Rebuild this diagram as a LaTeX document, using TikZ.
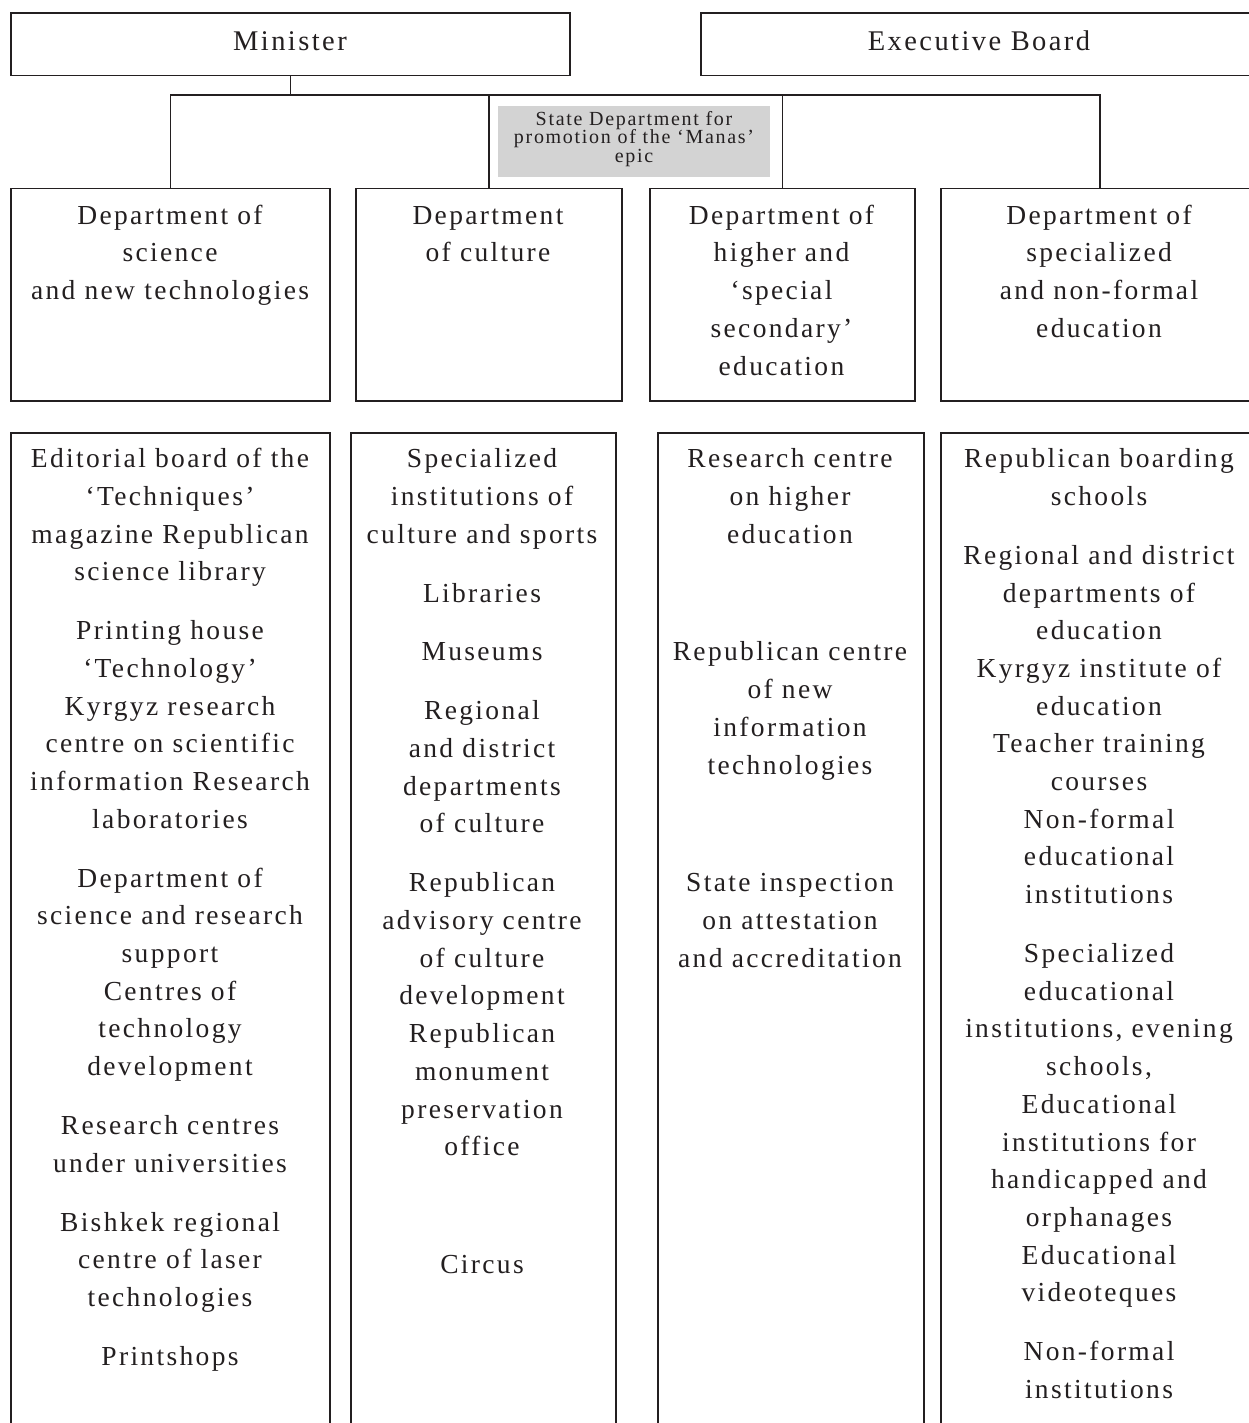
\documentclass[tikz,border=0pt]{standalone}
\usepackage{fontspec}
\setmainfont{Liberation Serif}[LetterSpace=8.5]
\definecolor{ink}{HTML}{231F20}
\definecolor{manasgrey}{HTML}{D3D3D3}
\newcommand\firststrut{\rule{0pt}{21pt}}
\newcommand\manasfont{\fontsize{20}{18.6}\selectfont\lineskiplimit=-20pt\relax}
\begin{document}
\begin{tikzpicture}[x=1pt,y=-1pt,
  box/.style={draw=ink, line width=1.5pt, inner sep=0pt, anchor=north west},
  txt/.style={text=ink, align=center, anchor=north, inner sep=0pt, font=\fontsize{27.5}{37.7}\selectfont},
  head/.style={text=ink, anchor=base, inner sep=0pt, font=\fontsize{28.5}{34}\selectfont},
  link/.style={draw=ink, line width=1.5pt}]
\useasboundingbox (0,0) rectangle (1248,1423);
\fill[white] (0,0) rectangle (1248,1423);

% top boxes
\node[box, minimum width=559pt, minimum height=62.5pt] (min) at (10,12.5) {};
\node[box, minimum width=558pt, minimum height=62.5pt] (exec) at (700,12.5) {};
\node[head] (mintxt) at (290,50.7) {Minister};
\node[head] (exectxt) at (979,50.7) {Executive Board};

% grey box
\node[fill=manasgrey, inner sep=0pt, minimum width=272pt, minimum height=71pt, anchor=north west] (manas) at (498,106) {};
\node[text=ink, align=center, anchor=north, inner sep=0pt, font=\manasfont] (manastxt) at (634,110) {\rule{0pt}{15pt}State Department for\\promotion of the ‘Manas’\\epic};

% department boxes
\node[box, minimum width=319pt, minimum height=212pt] (d1) at (10,188) {};
\node[box, minimum width=266pt, minimum height=212pt] (d2) at (355,188) {};
\node[box, minimum width=265pt, minimum height=212pt] (d3) at (649,188) {};
\node[box, minimum width=318pt, minimum height=212pt] (d4) at (940,188) {};

\node[txt] (d1txt) at (170,203) {\firststrut Department of\\science\\and new technologies};
\node[txt] (d2txt) at (488,203) {\firststrut Department\\of culture};
\node[txt] (d3txt) at (781.5,203) {\firststrut Department of\\higher and\\‘special\\secondary’\\education};
\node[txt] (d4txt) at (1099,203) {\firststrut Department of\\specialized\\and non-formal\\education};

% bottom boxes
\node[box, minimum width=319pt, minimum height=1010pt] (b1) at (10,432) {};
\node[box, minimum width=265pt, minimum height=1010pt] (b2) at (350,432) {};
\node[box, minimum width=266pt, minimum height=1010pt] (b3) at (657,432) {};
\node[box, minimum width=318pt, minimum height=1010pt] (b4) at (940,432) {};

\node[txt] (b1txt) at (170,446.5) {\firststrut Editorial board of the\\‘Techniques’\\magazine Republican\\science library\\[21.2pt]
Printing house\\‘Technology’\\Kyrgyz research\\centre on scientific\\information Research\\laboratories\\[21.2pt]
Department of\\science and research\\support\\Centres of\\technology\\development\\[21.2pt]
Research centres\\under universities\\[21.2pt]
Bishkek regional\\centre of laser\\technologies\\[21.2pt]
Printshops};

\node[txt] (b2txt) at (482,446.5) {\firststrut Specialized\\institutions of\\culture and sports\\[21.2pt]
Libraries\\[21.2pt]
Museums\\[21.2pt]
Regional\\and district\\departments\\of culture\\[21.2pt]
Republican\\advisory centre\\of culture\\development\\Republican\\monument\\preservation\\office\\[80.1pt]
Circus};

\node[txt] (b3txt) at (790,446.5) {\firststrut Research centre\\on higher\\education\\[80.1pt]
Republican centre\\of new\\information\\technologies\\[80.1pt]
State inspection\\on attestation\\and accreditation};

\node[txt] (b4txt) at (1099,446.5) {\firststrut Republican boarding\\schools\\[21.2pt]
Regional and district\\departments of\\education\\Kyrgyz institute of\\education\\Teacher training\\courses\\Non-formal\\educational\\institutions\\[21.2pt]
Specialized\\educational\\institutions, evening\\schools,\\Educational\\institutions for\\handicapped and\\orphanages\\Educational\\videoteques\\[21.2pt]
Non-formal\\institutions};

% connectors
\coordinate (bus) at (291,95);
\draw[link] (min.south) -- (min.south |- bus);
\draw[link] (d1.north) |- (bus) -| (d4.north);
\draw[link] (d2.north) -- (d2.north |- bus);
\draw[link] (d3.north) -- (d3.north |- bus);
\end{tikzpicture}
\end{document}
